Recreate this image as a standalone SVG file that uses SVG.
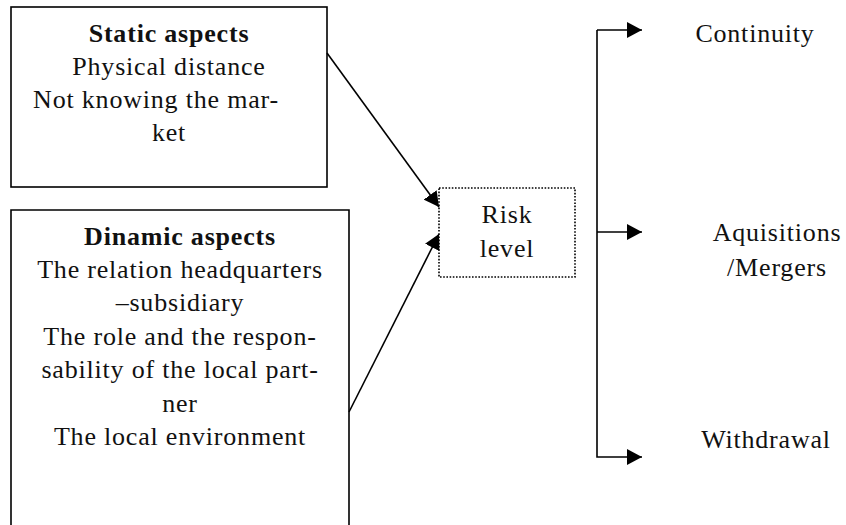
<svg xmlns="http://www.w3.org/2000/svg" width="846" height="525" viewBox="0 0 846 525">
<style>
.t{font-family:"Liberation Serif","DejaVu Serif",serif;font-size:26px;fill:#111;text-anchor:middle;letter-spacing:0.8px}
.b{font-weight:bold}
.box{fill:#fff;stroke:#000;stroke-width:1.6}
.dot{fill:#fff;stroke:#000;stroke-width:1.6;stroke-dasharray:1.6 1.6}
.c{fill:none;stroke:#000;stroke-width:1.6}
</style>
<defs>
<marker id="ah" viewBox="0 0 10 10" refX="10" refY="5" markerWidth="15" markerHeight="16" markerUnits="userSpaceOnUse" orient="auto" preserveAspectRatio="none">
<path d="M0,0 L10,5 L0,10 z" fill="#000"/>
</marker>
</defs>
<g id="static">
<rect class="box" x="11" y="7" width="316" height="180"/>
<text class="t b" x="169" y="42">Static aspects</text>
<text class="t" x="169" y="75">Physical distance</text>
<text class="t" x="156" y="108">Not knowing the mar-</text>
<text class="t" x="169" y="141">ket</text>
</g>
<g id="dynamic">
<path class="box" d="M11,530 L11,210 L349,210 L349,530"/>
<text class="t b" x="180" y="245">Dinamic aspects</text>
<text class="t" x="180" y="278">The relation headquarters</text>
<text class="t" x="180" y="311">–subsidiary</text>
<text class="t" x="180" y="345">The role and the respon-</text>
<text class="t" x="180" y="378">sability of the local part-</text>
<text class="t" x="180" y="412">ner</text>
<text class="t" x="180" y="445">The local environment</text>
</g>
<g id="risk">
<rect class="dot" x="439" y="188" width="136" height="89"/>
<text class="t" x="507" y="223">Risk</text>
<text class="t" x="507" y="257">level</text>
</g>
<g id="continuity">
<text class="t" x="755" y="42">Continuity</text>
</g>
<g id="acquisitions">
<text class="t" x="777" y="241">Aquisitions</text>
<text class="t" x="777" y="276">/Mergers</text>
</g>
<g id="withdrawal">
<text class="t" x="766" y="448">Withdrawal</text>
</g>
<g id="connectors">
<line class="c" x1="327" y1="53" x2="439" y2="207" marker-end="url(#ah)"/>
<line class="c" x1="349" y1="412" x2="439" y2="234" marker-end="url(#ah)"/>
<path class="c" d="M597,30 L597,457 L642,457" marker-end="url(#ah)"/>
<line class="c" x1="597" y1="30" x2="642" y2="30" marker-end="url(#ah)"/>
<line class="c" x1="597" y1="232" x2="642" y2="232" marker-end="url(#ah)"/>
</g>
</svg>
